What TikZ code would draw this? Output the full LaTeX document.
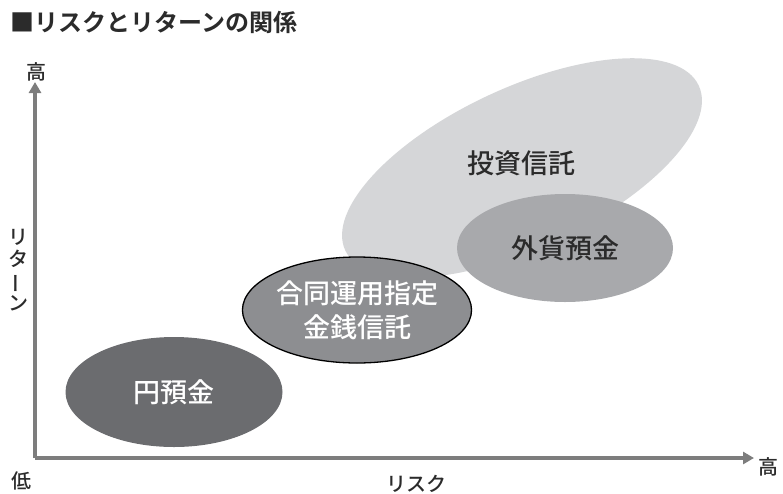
\documentclass[tikz,border=0pt]{standalone}
\usepackage{fontspec}
\setmainfont{Noto Sans CJK JP Medium}[BoldFont={Noto Sans CJK JP Bold}]
\usepackage{graphicx}
\usetikzlibrary{shapes.geometric,arrows.meta}
\definecolor{textdark}{HTML}{2B2B2B}
\definecolor{axisgray}{HTML}{7D7D7D}
\definecolor{toushi}{HTML}{D5D6D8}
\definecolor{gaika}{HTML}{A8A9AC}
\definecolor{goudou}{HTML}{8D8E91}
\definecolor{yen}{HTML}{6B6C6F}

\begin{document}
\begin{tikzpicture}[x=1pt,y=-1pt,
  blob/.style={ellipse,inner sep=0pt,text=white,align=center,
    font=\fontsize{27}{34}\selectfont},
  axis/.style={axisgray,line width=3.5pt,-{Triangle[length=11pt,width=12pt]}},
  axislabel/.style={inner sep=0pt,text=textdark,font=\fontsize{20}{22}\selectfont}]
\useasboundingbox (0,0) rectangle (783,493);

\node[anchor=west,inner sep=0pt,text=textdark,font=\bfseries\fontsize{24}{24}\selectfont] (title) at (10,22) {■リスクとリターンの関係};

% ellipses
\node[blob,fill=toushi,rotate=25,minimum width=390pt,minimum height=160pt] (toushi) at (522,168) {};
\node[inner sep=0pt,text=textdark,font=\fontsize{27}{34}\selectfont] (toushitext) at (521,163) {投資信託};
\node[blob,fill=gaika,text=textdark,minimum width=216pt,minimum height=108pt] (gaika) at (565,248) {外貨預金};
\node[blob,fill=yen,minimum width=217pt,minimum height=110pt] (yen) at (174,392) {円預金};
\node[blob,fill=goudou,draw=black,line width=1.3pt,minimum width=222pt,minimum height=106pt] (goudou) at (357,310) {合同運用指定\\金銭信託};

% axes
\coordinate (o) at (35,458);
\coordinate (ytip) at (35,82);
\coordinate (xtip) at (754,458);
\draw[axis] (o) -- (ytip);
\draw[axis] (o) -- (xtip);

\node[axislabel] (yhigh) at (36,72) {高};
\node[axislabel] (xhigh) at (768,467) {高};
\node[axislabel] (low) at (22,481) {低};
\node[axislabel] (risk) at (416,484) {リスク};
\node[axislabel,align=center] (ret) at (19,270) {リ\\タ\\\rotatebox[origin=c]{90}{ー}\\ン};
\end{tikzpicture}
\end{document}
